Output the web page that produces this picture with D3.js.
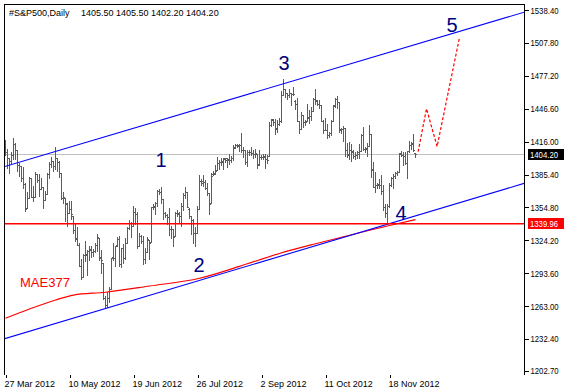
<!DOCTYPE html>
<html>
<head>
<meta charset="utf-8">
<script src="https://cdn.jsdelivr.net/npm/d3@7"></script>
<style>
  body { margin: 0; background: #fff; }
  svg { display: block; font-family: "Liberation Sans", Arial, sans-serif; }
</style>
</head>
<body>
<div id="chart"></div>
<script>
const symbol = "#S&P500,Daily";
const lastQuote = [1405.50, 1405.50, 1402.20, 1404.20];

// daily bars [open, high, low, close]
const bars = [
  [1415,1418,1404,1406],[1406,1409,1392,1400.5],[1400.5,1401,1387,1398.5],[1398.5,1406,1396.5,1403.5],
  [1403.5,1419,1399.5,1414],[1414,1414.5,1399.5,1408.5],[1408,1408,1389,1394],[1394,1396.5,1384,1393],
  [1393,1393.5,1379,1382],[1382,1392.5,1373,1377],[1377,1378,1351.5,1353.5],[1354,1369.5,1354,1363.5],
  [1363.5,1383,1363.5,1382.5],[1382.5,1382.5,1365,1365],[1365,1374.5,1360.5,1364.5],[1364.5,1387.5,1364.5,1385.5],
  [1385.5,1385.5,1378.5,1380],[1380,1385.5,1365.5,1372],[1372,1382.5,1372,1373.5],[1373.5,1373.5,1354,1362],
  [1362,1370.5,1362,1367],[1367,1386.5,1367,1385.5],[1385.5,1397,1382.5,1395],[1395,1401.5,1392.5,1398.5],
  [1398.5,1398.5,1389,1393],[1393,1411,1391,1401],[1400.5,1400.5,1389,1397.5],[1397.5,1398,1383.5,1386.5],
  [1386.5,1386.5,1363,1364],[1364,1369,1359,1364.5],[1364,1364,1342.5,1358.5],[1358,1358.5,1338,1349.5],
  [1349.5,1361,1349.5,1353],[1353,1360.5,1344,1348.5],[1347,1347,1331.5,1333.5],[1333.5,1340,1323.5,1325.5],
  [1326,1337,1320,1320],[1320,1321.5,1300,1300],[1300,1307,1288.5,1290],[1290.5,1311.5,1290.5,1311],
  [1311,1323.5,1305,1311.5],[1311,1315.5,1291.5,1314],[1314,1319,1305.5,1315.5],[1316,1319,1309,1313],
  [1313,1316,1310,1314],[1314,1322,1313,1320],[1320,1330,1314,1327.5],[1326.5,1326.5,1305.5,1308.5],
  [1308,1315,1294,1305.5],[1303,1303,1270,1271],[1271,1272,1261,1264],[1264,1276,1262,1271],
  [1271,1280.5,1267,1278.5],[1278.5,1308,1278.5,1308],[1309,1322,1305.5,1308],[1308,1319,1300.5,1318.5],
  [1320,1327,1319,1325],[1325,1328.5,1300.5,1302],[1302.5,1317.5,1299.5,1317],[1317,1320.5,1303.5,1308],
  [1308,1326.5,1307,1322],[1322,1336.5,1322,1336],[1336,1343,1335,1340],[1340,1341,1327.5,1337.5],
  [1338,1356.5,1338,1351],[1351,1354.5,1339.5,1348.5],[1348.5,1351,1317.5,1318.5],[1319,1331,1319,1328],
  [1328,1329,1322,1324],[1324,1328,1302.5,1306.5],[1307,1317,1303.5,1313],[1313.5,1327.5,1313.5,1325],
  [1324.5,1324.5,1306.5,1322],[1323,1355,1323,1355],[1355,1358,1353,1356],[1355.5,1359.5,1348.5,1358.5],
  [1358.5,1371,1356.5,1370],[1370,1372,1367,1369],[1369,1373.5,1359,1363],[1363,1363,1344,1350],
  [1350,1351,1346,1348],[1348,1349,1339.5,1345.5],[1346,1354.5,1329.5,1334.5],[1334.5,1338,1326,1334.5],
  [1334.5,1334.5,1318.5,1327.5],[1328,1350.5,1328,1350],[1350,1352,1347,1349],[1349.5,1350.5,1341.5,1346.5],
  [1346.5,1358.5,1338,1356.5],[1356.5,1368.5,1352,1366],[1366,1374,1364,1369.5],[1369.5,1369.5,1355,1355.5],
  [1353,1354,1345,1347],[1347,1347,1330.5,1343.5],[1343.5,1344.5,1322,1331.5],[1331.5,1337,1318.5,1331],
  [1331,1356,1331,1353],[1353,1385,1353,1379],[1379,1381,1376,1378],[1379,1385,1374.5,1378.5],
  [1378.5,1380,1372,1372.5],[1372.5,1378,1366.5,1368.5],[1368,1368,1348.5,1358],[1358.5,1387,1358.5,1384],
  [1386,1389,1385,1387],[1386,1394.5,1386,1389],[1389.5,1402,1389.5,1396.5],[1396,1399,1391,1397],
  [1397,1401,1394,1398],[1397.5,1401,1390.5,1401],[1400,1401,1397,1399],[1401,1401,1392.5,1399],
  [1399.5,1405,1395.5,1399],[1399,1403,1397,1400.5],[1400.5,1412.5,1399,1410.5],[1411,1414,1410,1413],
  [1413,1414,1411,1412],[1413,1413.5,1407,1413],[1413,1424.5,1406,1408.5],[1408.5,1411,1402,1408.5],
  [1408.5,1408.5,1395,1397],[1397,1408.5,1393.5,1406],[1406,1408,1404,1406],[1406,1411,1404,1405.5],
  [1405.5,1408.5,1400.5,1404.5],[1404.5,1409,1401.5,1405.5],[1405,1405,1392,1394.5],[1395,1408,1394,1401.5],
  [1401.5,1404,1400,1402],[1402,1405,1400,1403],[1402,1404.5,1392,1400],[1400,1404,1396.5,1399],
  [1403,1434,1403,1432],[1432,1437.5,1430.5,1437],[1436,1437,1432,1434],[1434,1437,1423,1428],
  [1428.5,1436,1425,1432.5],[1432.5,1438,1432,1435.5],[1435.5,1463,1434.5,1459.5],[1459.5,1474.5,1459.5,1465],
  [1465,1465.5,1457.5,1461],[1461,1461.5,1456,1459.5],[1459.5,1465,1458,1461],[1461,1461,1450,1460],
  [1460,1467,1459.5,1460],[1454,1454.5,1446,1451],[1451,1457,1435.5,1435.5],[1435.5,1435.5,1424.5,1427.5],
  [1427.5,1444,1427.5,1441],[1441,1441,1429.5,1434.5],[1434.5,1436,1432,1434],[1435,1451,1435,1438.5],
  [1439,1445.5,1433,1439.5],[1440,1448.5,1436,1445],[1445,1457,1445,1455.5],[1455.5,1465,1451,1455],
  [1454,1455,1450,1451],[1451,1455,1447,1450],[1450,1450,1435,1435.5],[1435.5,1436.5,1424.5,1426.5],
  [1427,1438,1427,1427],[1427,1432.5,1419.5,1422.5],[1422.5,1425,1420,1424],[1424,1436.5,1422,1435],
  [1435.5,1450.5,1435.5,1450],[1449,1457,1448.5,1456],[1456,1459,1447.5,1452.5],[1452.5,1452.5,1425,1428],
  [1427,1429,1424,1428],[1428,1430.5,1417,1429],[1429,1429,1402.5,1408],[1408,1415,1402,1403.5],
  [1404.5,1416,1400,1408],[1408,1414,1398.5,1407],[1406,1408,1401,1403],[1403,1406,1400,1404],
  [1404,1407,1401,1405],[1406,1413.5,1401,1407],[1407,1423.5,1407,1422.5],[1422.5,1429.5,1408,1409],
  [1409,1411,1406,1410],[1409,1415,1403,1412],[1412,1432,1412,1423.5],[1423,1423,1383,1389.5],
  [1390.5,1397,1373.5,1373.5],[1373.5,1387.5,1369,1376],[1376,1378,1373,1377],[1376,1381,1373,1376],
  [1376,1385,1367.5,1370.5],[1370.5,1376,1352,1355],[1355,1358,1346,1350],[1350,1358,1339.96,1356],
  [1356,1378,1355,1376],[1376,1383,1375,1382],[1382,1386,1373,1384],[1384,1387.5,1382.5,1387],
  [1387,1389,1385,1388],[1388,1405.5,1388,1405.5],[1405,1407,1403,1404],[1404,1406,1394.5,1403],
  [1403,1406,1395,1396],[1396,1407.5,1382.5,1407],[1407,1417,1406,1413],[1413,1416,1409,1413.5],
  [1414.5,1423,1407,1408],[1405.5,1405.5,1402.2,1404.2]
];

const dateTicks = [0, 32, 64, 96, 128, 160, 192];
const dateLabels = ["27 Mar 2012", "10 May 2012", "19 Jun 2012", "26 Jul 2012", "2 Sep 2012", "11 Oct 2012", "18 Nov 2012"];
const priceTicks = [1538.40, 1507.80, 1477.20, 1446.60, 1416.00, 1385.40, 1354.80, 1324.20, 1293.60, 1263.00, 1232.40, 1202.70];

const bidPrice = 1404.20;
const levelPrice = 1339.96;

// trend channel, [bar, price]
const channelUpper = [[-1, 1392.6], [260, 1536.9]];
const channelLower = [[-1, 1232.4], [260, 1377.6]];

// moving average MAE377, [bar, price]
const maName = "MAE377";
const maPoints = [[0, 1251.7], [12, 1260.3], [25, 1268.7], [34, 1273.3], [50, 1275.9], [72, 1281.7],
  [97, 1288.9], [117, 1300], [137, 1312], [155, 1321], [170, 1328], [192, 1338], [205, 1343.5]];

// projected path (dashed), [bar, price]
const projection = [[206.3, 1406.7], [210.5, 1446.7], [215.8, 1411.5], [227, 1513]];

// wave counts, [bar, price, label]
const waveLabels = [[77.75, 1392.7, "1"], [96.75, 1295, "2"], [139.25, 1482.7, "3"], [197.75, 1343.1, "4"], [223.25, 1518.4, "5"]];
const maLabelAt = [7.25, 1280.5];

const W = 564, H = 391;
const plot = { left: 4, top: 4, right: 524, bottom: 375 };

const svg = d3.select("#chart").append("svg")
  .attr("width", W)
  .attr("height", H);

svg.append("rect").attr("width", W).attr("height", H).attr("fill", "#fff");

const x = d3.scaleLinear().domain([0, 259]).range([5.5, 523.5]);
const y = d3.scaleLinear().domain([1202.7, 1538.4]).range([370.9, 10.2]);

svg.append("clipPath").attr("id", "clip")
  .append("rect")
  .attr("x", plot.left).attr("y", plot.top)
  .attr("width", plot.right - plot.left).attr("height", plot.bottom - plot.top);

const g = svg.append("g").attr("clip-path", "url(#clip)");
const py = v => Math.round(y(v)) + 0.5;

// bid line
g.append("path")
  .attr("d", `M${plot.left},${py(bidPrice)}H${plot.right}`)
  .style("stroke", "#c0c0c0")
  .style("fill", "none")
  .attr("shape-rendering", "crispEdges");

// bars
g.append("g").selectAll("path")
  .data(bars)
  .enter().append("path")
  .attr("d", (d, i) => {
    const xi = x(i);
    return `M${xi},${py(d[1]) - 0.5}V${py(d[2]) + 0.5}` +
      `M${xi - 1.5},${py(d[0])}H${xi - 0.5}M${xi + 0.5},${py(d[3])}H${xi + 1.5}`;
  })
  .attr("fill", "none")
  .attr("stroke", "#5c5c5c")
  .attr("shape-rendering", "crispEdges");

// moving average
g.append("path")
  .datum(maPoints)
  .attr("fill", "none")
  .attr("stroke", "#ff0000")
  .attr("stroke-width", 1.2)
  .attr("d", d3.line().x(d => x(d[0])).y(d => y(d[1])).curve(d3.curveMonotoneX));

// channel
[channelUpper, channelLower].forEach(c => {
  g.append("path")
    .datum(c)
    .attr("fill", "none")
    .attr("stroke", "#0000ff")
    .attr("stroke-width", 1.1)
    .attr("d", d3.line().x(d => x(d[0])).y(d => y(d[1])));
});

// horizontal level at the low
g.append("path")
  .attr("d", `M${plot.left},${y(levelPrice) + 0.4}H${plot.right}`)
  .style("stroke", "#ff0000")
  .style("stroke-width", 1.4)
  .style("fill", "none");

// projection
g.append("path")
  .datum(projection)
  .attr("fill", "none")
  .attr("stroke", "#ff0000")
  .attr("stroke-width", 1.2)
  .attr("stroke-dasharray", "3,2")
  .attr("d", d3.line().x(d => x(d[0])).y(d => y(d[1])));

// wave labels
g.selectAll(".wave")
  .data(waveLabels)
  .enter().append("text")
  .attr("class", "wave")
  .attr("x", d => x(d[0]))
  .attr("y", d => y(d[1]))
  .attr("text-anchor", "middle")
  .attr("font-size", 20)
  .attr("fill", "#000080")
  .text(d => d[2]);

g.append("text")
  .attr("x", x(maLabelAt[0])).attr("y", y(maLabelAt[1]))
  .attr("font-size", 13)
  .attr("fill", "#ff0000")
  .text(maName);

// frame
svg.append("path")
  .attr("d", `M${plot.left + 0.5},${plot.bottom}V${plot.top + 0.5}H${plot.right + 0.5}V${plot.bottom}`)
  .attr("fill", "none")
  .attr("stroke", "#000")
  .attr("shape-rendering", "crispEdges");

// price axis
const yAxis = svg.append("g")
  .attr("transform", `translate(${plot.right + 0.5},0)`)
  .call(d3.axisRight(y).tickValues(priceTicks).tickFormat(d3.format(".2f")).tickSize(4).tickPadding(2));
yAxis.select(".domain").remove();
yAxis.selectAll(".tick line").attr("stroke", "#000").attr("shape-rendering", "crispEdges");
yAxis.selectAll(".tick text")
  .attr("font-size", 9)
  .attr("font-family", "'Liberation Sans', Arial, sans-serif")
  .attr("fill", "#000")
  .attr("textLength", 28)
  .attr("lengthAdjust", "spacingAndGlyphs");

// price boxes
[[bidPrice, "#000"], [levelPrice, "#ff0000"]].forEach(([v, c]) => {
  svg.append("rect")
    .attr("x", plot.right + 4).attr("y", Math.round(y(v)) - 5)
    .attr("width", W - plot.right - 4).attr("height", 11)
    .attr("fill", c);
  svg.append("text")
    .attr("x", plot.right + 6).attr("y", y(v)).attr("dy", "0.35em")
    .attr("font-size", 9)
    .attr("fill", "#fff")
    .attr("textLength", 28)
    .attr("lengthAdjust", "spacingAndGlyphs")
    .text(d3.format(".2f")(v));
});

// time axis
const xAxis = svg.append("g")
  .attr("transform", `translate(0,${plot.bottom})`)
  .call(d3.axisBottom(x).tickValues(dateTicks).tickFormat((d, i) => dateLabels[i]).tickSize(3).tickPadding(3));
xAxis.select(".domain").remove();
xAxis.selectAll(".tick line").attr("stroke", "#000").attr("shape-rendering", "crispEdges");
xAxis.selectAll(".tick text")
  .attr("font-size", 9)
  .attr("font-family", "'Liberation Sans', Arial, sans-serif")
  .attr("fill", "#000")
  .attr("text-anchor", "start")
  .attr("x", -1.5);

// title
svg.append("text").attr("x", 9).attr("y", 16).attr("font-size", 9).attr("fill", "#000").text(symbol);
svg.append("text").attr("x", 81).attr("y", 16).attr("font-size", 9).attr("fill", "#000")
  .text(lastQuote.map(d3.format(".2f")).join(" "));
</script>
</body>
</html>
